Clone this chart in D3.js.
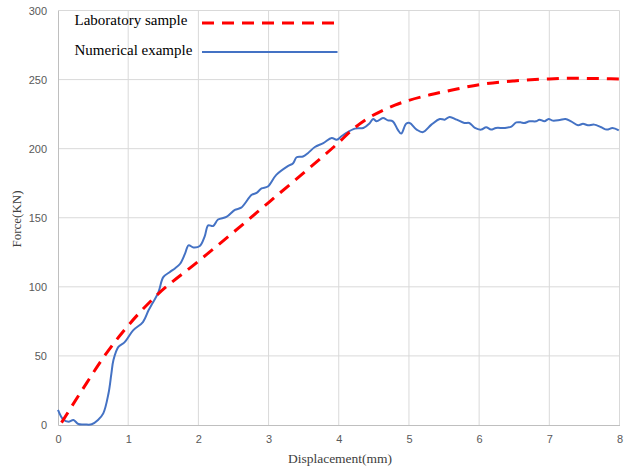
<!DOCTYPE html>
<html>
<head>
<meta charset="utf-8">
<script src="https://cdn.jsdelivr.net/npm/d3@7"></script>
<style>
  html, body { margin: 0; padding: 0; background: #fff; }
  svg { display: block; }
</style>
</head>
<body>
<svg id="chart" width="624" height="468"></svg>
<script>
// ---- data ----
const xTicks = [0, 1, 2, 3, 4, 5, 6, 7, 8];
const yTicks = [0, 50, 100, 150, 200, 250, 300];

const seriesNames = ["Laboratory sample", "Numerical example"];

const labX = [0.05, 0.34, 0.67, 1.0, 1.38, 2.0, 2.5, 3.0, 3.5, 4.0, 4.2, 4.4, 4.6, 4.8, 5.0, 5.3, 5.6, 6.0, 6.5, 7.0, 7.3, 7.6, 8.0];
const labY = [1.7, 25, 50.5, 72, 92.6, 118.5, 139.5, 161, 182.5, 204.5, 214, 221.5, 227, 231.5, 235, 239, 242.3, 246.3, 249, 250.5, 251, 250.8, 250.4];

const numX = [0, 0.075, 0.15, 0.22, 0.29, 0.38, 0.48, 0.57, 0.645, 0.72, 0.76, 0.79, 0.86, 0.95, 1.07, 1.21, 1.29, 1.33, 1.43, 1.50, 1.59, 1.67, 1.74, 1.81, 1.86, 1.93, 2.02, 2.09, 2.14, 2.21, 2.28, 2.40, 2.52, 2.61, 2.76, 2.83, 2.90, 2.99, 3.11, 3.28, 3.35, 3.40, 3.49, 3.56, 3.66, 3.78, 3.90, 3.97, 4.04, 4.11, 4.23, 4.35, 4.44, 4.49, 4.54, 4.63, 4.70, 4.77, 4.84, 4.89, 4.96, 5.01, 5.11, 5.20, 5.32, 5.44, 5.51, 5.58, 5.68, 5.79, 5.86, 5.94, 6.03, 6.10, 6.17, 6.24, 6.36, 6.46, 6.53, 6.60, 6.64, 6.72, 6.81, 6.86, 6.93, 6.99, 7.05, 7.15, 7.23, 7.31, 7.41, 7.48, 7.55, 7.64, 7.74, 7.82, 7.90, 7.99];
const numY = [11, 4, 2.4, 3.6, 0.7, 0.4, 0.5, 3.6, 8.4, 23, 37, 47, 56.5, 60, 68.5, 74.5, 83, 86.6, 96, 107, 110.6, 113.5, 116.7, 124, 130, 128.5, 129.5, 136.5, 144.5, 144, 148.7, 150.6, 155.7, 157.3, 166.6, 168, 171.2, 172.6, 181, 187.5, 189.5, 193.8, 194.3, 196.7, 201.2, 204, 207.8, 206.4, 209, 211.5, 214.5, 215, 218.4, 221.5, 219.8, 222.2, 220.5, 219.8, 213.8, 210.9, 218, 218.6, 213.8, 212, 217.4, 221.5, 221, 223, 221, 218.6, 218.6, 215, 213.8, 215.5, 213.8, 215, 215, 216, 219, 219, 218.5, 219.8, 219.8, 221, 219.8, 221.5, 220.3, 220.8, 221.5, 219.8, 217, 218, 217, 217.4, 215.5, 213.8, 215, 213.3];

const colors = ["#FF0000", "#4472C4"];

// ---- layout ----
const svg = d3.select("#chart");
const x = d3.scaleLinear().domain([0, 8]).range([58, 619.5]);
const y = d3.scaleLinear().domain([0, 300]).range([425, 10.5]);

// gridlines
svg.append("g").selectAll("line.vg").data(xTicks.filter(d => d > 0)).join("line")
  .attr("x1", d => x(d)).attr("x2", d => x(d))
  .attr("y1", y(0)).attr("y2", y(300))
  .attr("stroke", "#d9d9d9").attr("stroke-width", 1);
svg.append("g").selectAll("line.hg").data(yTicks.filter(d => d > 0)).join("line")
  .attr("x1", x(0)).attr("x2", x(8))
  .attr("y1", d => y(d)).attr("y2", d => y(d))
  .attr("stroke", "#d9d9d9").attr("stroke-width", 1);

// axes
const xAxis = svg.append("g").attr("transform", `translate(0,${y(0)})`)
  .call(d3.axisBottom(x).tickValues(xTicks).tickSize(0).tickPadding(10).tickFormat(d3.format("d")));
const yAxis = svg.append("g").attr("transform", `translate(${x(0)},0)`)
  .call(d3.axisLeft(y).tickValues(yTicks).tickSize(0).tickPadding(11).tickFormat(d3.format("d")));
[xAxis, yAxis].forEach(a => {
  a.select(".domain").attr("stroke", "#bfbfbf").attr("stroke-width", 1);
  a.selectAll("text").attr("fill", "#595959")
    .style("font-family", "'Liberation Sans', Arial, sans-serif").style("font-size", "11px");
});

// lines
const numLine = d3.line().curve(d3.curveCatmullRom.alpha(0.5));
const labLine = d3.line().curve(d3.curveMonotoneX);
const labPts = labX.map((v, i) => [x(v), y(labY[i])]);
const numPts = numX.map((v, i) => [x(v), y(numY[i])]);

svg.append("path").attr("d", numLine(numPts))
  .attr("fill", "none").attr("stroke", colors[1]).attr("stroke-width", 2)
  .attr("stroke-linejoin", "round");
svg.append("path").attr("d", labLine(labPts))
  .attr("fill", "none").attr("stroke", colors[0]).attr("stroke-width", 3)
  .attr("stroke-dasharray", "12,8");

// legend
const lg = svg.append("g");
const legendRows = [
  { name: seriesNames[0], color: colors[0], dash: "12,8", w: 3, ty: 25, ly: 23 },
  { name: seriesNames[1], color: colors[1], dash: null, w: 2, ty: 55, ly: 52 }
];
legendRows.forEach(r => {
  lg.append("text").attr("x", 74.5).attr("y", r.ty).text(r.name)
    .attr("fill", "#000").style("font-family", "'Liberation Serif', 'Times New Roman', serif")
    .style("font-size", "15px");
  lg.append("line").attr("x1", 202).attr("x2", 337.5).attr("y1", r.ly).attr("y2", r.ly)
    .attr("stroke", r.color).attr("stroke-width", r.w)
    .attr("stroke-dasharray", r.dash);
});

// axis titles
svg.append("text").attr("x", 340).attr("y", 463).attr("text-anchor", "middle")
  .text("Displacement(mm)").attr("fill", "#404040")
  .style("font-family", "'Liberation Serif', 'Times New Roman', serif").style("font-size", "13.5px");
svg.append("text").attr("transform", "translate(21,219) rotate(-90)").attr("text-anchor", "middle")
  .text("Force(KN)").attr("fill", "#404040")
  .style("font-family", "'Liberation Serif', 'Times New Roman', serif").style("font-size", "13px");
</script>
</body>
</html>
